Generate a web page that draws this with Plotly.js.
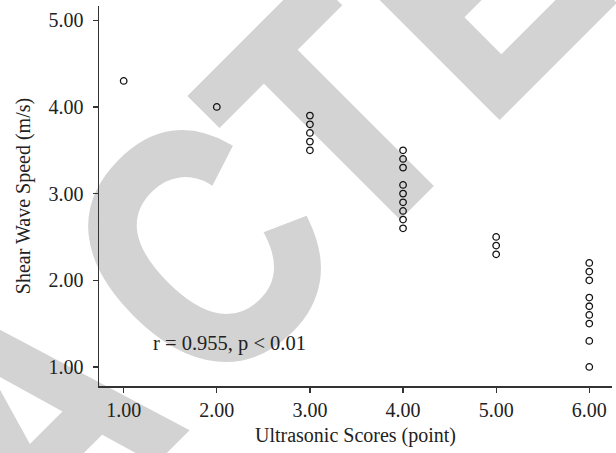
<!DOCTYPE html>
<html>
<head>
<meta charset="utf-8">
<script src="https://cdn.plot.ly/plotly-3.0.1.min.js"></script>
<style>
  html, body { margin: 0; padding: 0; background: #ffffff; }
  #wrap { position: relative; width: 616px; height: 453px; overflow: hidden; }
  #wm { position: absolute; left: 0; top: 0; width: 616px; height: 453px; z-index: 0; }
  #wm text { font-family: "Liberation Sans", Arial, sans-serif; font-weight: bold; font-size: 283px;
             fill: #d3d3d3; stroke: #d3d3d3; stroke-width: 7px; stroke-linejoin: miter; }
  #chart { position: absolute; left: 0; top: 0; width: 616px; height: 453px; z-index: 1; }
</style>
</head>
<body>
<div id="wrap">
  <svg id="wm" width="616" height="453" xmlns="http://www.w3.org/2000/svg">
    <g transform="translate(307 307) rotate(-45) scale(1 1.18)">
      <text x="-1145 -941 -752 -579 -372 -137 65 253 442" y="0">RETRACTED</text>
    </g>
  </svg>
  <div id="chart"></div>
</div>
<script>
// Ultrasonic score (x) and shear wave speed in m/s (y), one entry per point
const scores = [1, 2, 3, 3, 3, 3, 3, 4, 4, 4, 4, 4, 4, 4, 4, 4, 5, 5, 5, 6, 6, 6, 6, 6, 6, 6, 6, 6];
const speeds = [4.3, 4.0, 3.9, 3.8, 3.7, 3.6, 3.5,
                3.5, 3.4, 3.3, 3.1, 3.0, 2.9, 2.8, 2.7, 2.6,
                2.5, 2.4, 2.3,
                2.2, 2.1, 2.0, 1.8, 1.7, 1.6, 1.5, 1.3, 1.0];
const xTicks = [1, 2, 3, 4, 5, 6];
const xTickText = ['1.00', '2.00', '3.00', '4.00', '5.00', '6.00'];
const yTicks = [1, 2, 3, 4, 5];
const yTickText = ['1.00', '2.00', '3.00', '4.00', '5.00'];
const statText = 'r = 0.955, p < 0.01';
const statPos = [2.14, 1.27];

const serif = 'Liberation Serif, Times New Roman, serif';
const trace = {
  x: scores, y: speeds, type: 'scatter', mode: 'markers',
  marker: { symbol: 'circle-open', size: 6.5, color: '#111', line: { color: '#111', width: 1.3 } },
  hoverinfo: 'x+y'
};
const axisCommon = {
  showline: true, linecolor: '#333', linewidth: 1.5,
  ticks: 'outside', ticklen: 5, tickwidth: 1.3, tickcolor: '#333',
  showgrid: false, zeroline: false,
  tickfont: { family: serif, size: 20, color: '#222' },
  tickmode: 'array'
};
const layout = {
  width: 616, height: 453,
  margin: { l: 99, r: 4, t: 6, b: 67 },
  paper_bgcolor: 'rgba(0,0,0,0)', plot_bgcolor: 'rgba(0,0,0,0)',
  showlegend: false,
  xaxis: Object.assign({}, axisCommon, {
    range: [0.735, 6.244], tickvals: xTicks, ticktext: xTickText,
    title: { text: 'Ultrasonic Scores (point)', font: { family: serif, size: 20, color: '#222' }, standoff: 8 }
  }),
  yaxis: Object.assign({}, axisCommon, {
    range: [0.78, 5.165], tickvals: yTicks, ticktext: yTickText,
    ticklabelstandoff: 5,
    title: { text: 'Shear Wave Speed (m/s)', font: { family: serif, size: 20, color: '#222' }, standoff: 12 }
  }),
  annotations: [{
    x: statPos[0], y: statPos[1], xref: 'x', yref: 'y', showarrow: false,
    text: statText, font: { family: serif, size: 20.5, color: '#222' }
  }]
};
Plotly.newPlot('chart', [trace], layout, { displayModeBar: false, staticPlot: true });
</script>
</body>
</html>
